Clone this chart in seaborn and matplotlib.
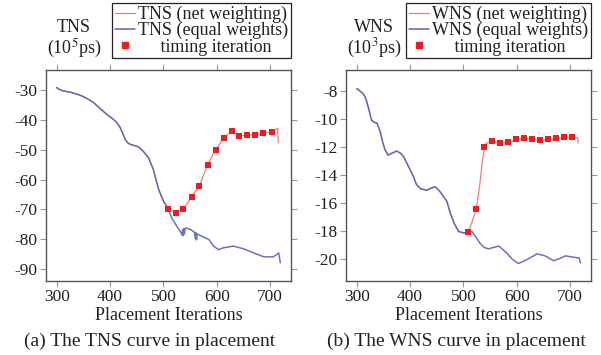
import matplotlib
matplotlib.use("Agg")
import matplotlib.pyplot as plt
from matplotlib.lines import Line2D
import seaborn as sns
import pandas as pd

# ---------------- data ----------------
tns_equal_iter = [300, 306, 312, 325, 340, 350, 360, 369, 380, 394, 406, 413, 419, 424, 428, 433, 438,
                  445, 453, 462, 472, 481, 491, 500, 505,
                  509, 516, 525, 532, 535, 536, 537, 538, 539, 541, 550, 558, 560, 561, 562, 563, 572,
                  585, 594, 603, 612, 631, 650, 669, 688, 706, 716, 719]
tns_equal_val = [-29.2, -29.9, -30.3, -30.7, -31.5, -32.2, -33.2, -34.2, -36.0, -38.2, -39.8, -41.0,
                 -42.6, -44.6, -46.5, -47.7, -48.2, -48.6, -49.0, -50.5,
                 -52.7, -56.6, -63.3, -67.2, -68.6, -70.0, -73.0, -75.6, -77.5, -78.6, -76.8, -78.8,
                 -76.5, -78.3, -76.2, -76.7, -77.6, -79.8, -77.8, -80.2, -78.2, -79.0, -80.1, -82.3,
                 -83.5, -82.9, -82.3, -83.2, -84.6, -85.9, -85.9, -84.6, -87.9]
n_shared_tns = 25  # net-weighting curve equals the equal-weights curve up to iteration 505
tns_net_iter = tns_equal_iter[:n_shared_tns] + [508, 512, 523, 537, 553, 567, 583, 598, 613, 628,
                                                 642, 657, 672, 687, 703, 714, 715]
tns_net_val = tns_equal_val[:n_shared_tns] + [-69.8, -70.3, -71.1, -70.0, -65.8, -62.2, -55.0, -50.0,
                                               -46.0, -43.9, -45.5, -45.0, -45.0, -44.3, -44.0, -42.8, -47.7]
tns_timing_iter = [508, 523, 537, 553, 567, 583, 598, 613, 628, 642, 657, 672, 687, 703]
tns_timing_val = [-69.8, -71.1, -70.0, -65.8, -62.2, -55.0, -50.0, -46.0, -43.9, -45.5, -45.0, -45.0,
                  -44.3, -44.0]

wns_equal_iter = [300, 306, 312, 316, 319, 324, 328, 333, 338, 344, 349, 353, 359, 366, 375, 382, 388,
                  397, 406, 412, 420, 431, 440, 447, 456, 469,
                  475, 483, 491, 500, 505, 516, 524, 531, 539, 547, 556, 566, 574, 581, 592, 603, 619,
                  638, 653, 669, 680, 691, 706, 717, 719]
wns_equal_val = [-7.83, -8.0, -8.19, -8.45, -8.78, -9.5, -10.1, -10.25, -10.3, -10.9, -11.7, -12.2,
                 -12.6, -12.45, -12.3, -12.45, -12.7, -13.4, -14.1, -14.7, -15.0, -15.1, -14.95, -14.85,
                 -15.2, -15.9, -16.7, -17.5, -18.05, -18.16, -18.15, -18.05, -18.5, -18.9, -19.2, -19.3,
                 -19.2, -19.1, -19.35, -19.6, -20.05, -20.35, -20.07, -19.66, -19.8, -20.15, -20.0,
                 -19.8, -19.9, -19.95, -20.3]
n_shared_wns = 31
wns_net_iter = wns_equal_iter[:n_shared_wns] + [509, 516, 524, 530, 535, 539, 542, 554, 569, 584, 599,
                                                 614, 629, 644, 659, 674, 689, 704, 714, 715]
wns_net_val = wns_equal_val[:n_shared_wns] + [-18.1, -17.4, -16.45, -14.9, -13.2, -12.03, -11.75, -11.58,
                                               -11.7, -11.68, -11.47, -11.4, -11.44, -11.54, -11.47, -11.4,
                                               -11.33, -11.33, -11.35, -11.75]
wns_timing_iter = [509, 524, 539, 554, 569, 584, 599, 614, 629, 644, 659, 674, 689, 704]
wns_timing_val = [-18.1, -16.45, -12.03, -11.58, -11.7, -11.68, -11.47, -11.4, -11.44, -11.54, -11.47,
                  -11.4, -11.33, -11.33]

x_ticks = [300, 400, 500, 600, 700]
tns_yticks = [-30, -40, -50, -60, -70, -80, -90]
wns_yticks = [-8, -10, -12, -14, -16, -18, -20]

# ---------------- style ----------------
sns.set_theme(style="white")
plt.rcParams["font.family"] = ["Liberation Serif", "DejaVu Serif"]
plt.rcParams["mathtext.fontset"] = "stix"

RED_LINE = "#f47a7a"
RED_SQ = "#ec1c24"
BLUE = "#5d62b8"
TXT = "#222222"
FS_TICK = 12.5
FS = 13
FS_CAP = 14

fig = plt.figure(figsize=(6.01, 3.55), dpi=100)
ax1 = fig.add_axes([46 / 601, 74 / 355, 245 / 601, 211 / 355])
ax2 = fig.add_axes([346 / 601, 74 / 355, 245 / 601, 211 / 355])


def draw(ax, net_it, net_v, eq_it, eq_v, t_it, t_v, name, yticks, ylim):
    sns.lineplot(x=net_it, y=net_v, ax=ax, color=RED_LINE, lw=0.9, sort=False, estimator=None)
    sns.lineplot(x=eq_it, y=eq_v, ax=ax, color=BLUE, lw=1.1, alpha=0.9, sort=False, estimator=None)
    sns.scatterplot(x=t_it, y=t_v, ax=ax, color=RED_SQ, marker="s", s=22, linewidth=0, zorder=5)
    ax.set_xlim(280, 739)
    ax.set_ylim(*ylim)
    ax.set_xticks(x_ticks)
    ax.set_yticks(yticks)
    ax.set_yticklabels([str(v) for v in yticks])
    ax.tick_params(axis="both", which="both", direction="out", length=4, width=0.8, color="#9a9a9a",
                   labelsize=FS_TICK, labelcolor=TXT, pad=2,
                   top=True, right=True, bottom=True, left=True, labeltop=False, labelright=False)
    for s in ax.spines.values():
        s.set_color("#555555")
        s.set_linewidth(1.0)
    ax.set_xlabel("Placement Iterations", fontsize=FS, labelpad=1.5, color=TXT)
    ax.set_ylabel("")
    handles = [Line2D([], [], color=RED_LINE, lw=0.9),
               Line2D([], [], color=BLUE, lw=1.1),
               Line2D([], [], color=RED_SQ, marker="s", markersize=4.5, lw=0)]
    labels = [f"{name} (net weighting)", f"{name} (equal weights)", "     timing iteration"]
    leg = ax.legend(handles, labels, loc="upper right", bbox_to_anchor=(1.0, 1.3175),
                    borderaxespad=0, fontsize=FS, frameon=True, fancybox=False, framealpha=1,
                    edgecolor=TXT, handlelength=1.1, handletextpad=0.2, borderpad=0.15,
                    labelspacing=-0.05)
    leg.get_frame().set_linewidth(0.9)
    for t in leg.get_texts():
        t.set_color(TXT)


draw(ax1, tns_net_iter, tns_net_val, tns_equal_iter, tns_equal_val, tns_timing_iter, tns_timing_val,
     "TNS", tns_yticks, (-94, -23.3))
draw(ax2, wns_net_iter, wns_net_val, wns_equal_iter, wns_equal_val, wns_timing_iter, wns_timing_val,
     "WNS", wns_yticks, (-21.6, -6.5))

fig.text(74 / 601, 1 - 27 / 355, "TNS", ha="center", va="center", fontsize=FS, color=TXT)
fig.text(74 / 601, 1 - 48 / 355, r"(10$^{5}$ps)", ha="center", va="center", fontsize=FS, color=TXT)
fig.text(374 / 601, 1 - 27 / 355, "WNS", ha="center", va="center", fontsize=FS, color=TXT)
fig.text(374 / 601, 1 - 48 / 355, r"(10$^{3}$ps)", ha="center", va="center", fontsize=FS, color=TXT)

fig.text(150 / 601, 1 - 341 / 355, "(a) The TNS curve in placement", ha="center", va="center",
         fontsize=FS_CAP, color=TXT)
fig.text(456 / 601, 1 - 341 / 355, "(b) The WNS curve in placement", ha="center", va="center",
         fontsize=FS_CAP, color=TXT)

fig.savefig("out.png", dpi=100)
